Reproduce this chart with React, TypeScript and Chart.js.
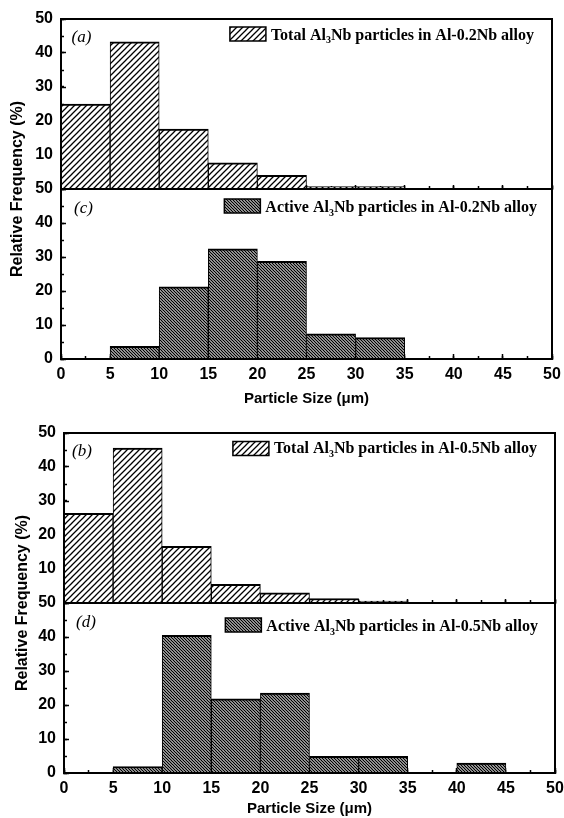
import React, { useEffect, useRef } from 'react';
import { Chart, registerables } from 'chart.js';

Chart.register(...registerables);

// ---------------- data ----------------
const sizeBins = ['0-5', '5-10', '10-15', '15-20', '20-25', '25-30', '30-35', '35-40', '40-45', '45-50'];
const totalNb02 = [25.0, 43.3, 17.6, 7.7, 4.0, 0.7, 0.7, 0, 0, 0];
const activeNb02 = [0, 3.7, 21.2, 32.4, 28.7, 7.4, 6.3, 0, 0, 0];
const totalNb05 = [26.4, 45.6, 16.7, 5.5, 3.0, 1.3, 0.6, 0, 0, 0];
const activeNb05 = [0, 1.9, 40.5, 21.8, 23.5, 4.9, 4.9, 0, 2.9, 0];

const sizeMin = 0;
const sizeMax = 50;
const sizeMajorStep = 5;
const sizeMinorStep = 2.5;
const freqMin = 0;
const freqMax = 50;
const freqMajorStep = 10;
const freqMinorStep = 5;

const xTitle = 'Particle Size (μm)';
const yTitle = 'Relative Frequency (%)';
const legendNb02 = ['Total Al₃Nb particles in Al-0.2Nb alloy', 'Active Al₃Nb particles in Al-0.2Nb alloy'];
const legendNb05 = ['Total Al₃Nb particles in Al-0.5Nb alloy', 'Active Al₃Nb particles in Al-0.5Nb alloy'];
const tagsNb02 = ['(a)', '(c)'];
const tagsNb05 = ['(b)', '(d)'];

// ---------------- styles ----------------
const SANS = '"Liberation Sans", Arial, sans-serif';
const SERIF = '"Liberation Serif", "Times New Roman", serif';
const BLACK = '#000';

type Lay = {
  top: number; height: number; padTop: number; padRight: number; titleW: number; tickW: number;
  xAxisH: number; yTitlePad: number; xTitlePad: number; xTickPad: number;
};
type PanelStyle = { tagX: number; tagY: number; boxY: number; textY: number; rightGap: number };

const lay1: Lay = { top: 0, height: 409, padTop: 19, padRight: 12, titleW: 28, tickW: 33, xAxisH: 50, yTitlePad: 8, xTitlePad: 1, xTickPad: 10.5 };
const lay2: Lay = { top: 409, height: 409, padTop: 24, padRight: 9, titleW: 31, tickW: 33, xAxisH: 45, yTitlePad: 13, xTitlePad: 0, xTickPad: 10.5 };
const panels1: PanelStyle[] = [
  { tagX: 10.5, tagY: 23, boxY: 8, textY: 20.5, rightGap: 18 },
  { tagX: 13, tagY: 24, boxY: 10, textY: 23, rightGap: 15 },
];
const panels2: PanelStyle[] = [
  { tagX: 8, tagY: 23, boxY: 8.5, textY: 20, rightGap: 18 },
  { tagX: 12, tagY: 24, boxY: 15, textY: 28, rightGap: 17 },
];

function makeHatch(tile: number, lw: number, slope: 'up' | 'down'): CanvasPattern {
  const c = document.createElement('canvas');
  c.width = tile;
  c.height = tile;
  const g = c.getContext('2d')!;
  g.fillStyle = '#fff';
  g.fillRect(0, 0, tile, tile);
  g.strokeStyle = BLACK;
  g.lineWidth = lw;
  g.beginPath();
  for (let k = -1; k <= 1; k++) {
    if (slope === 'up') {
      g.moveTo(k * tile - 1, tile + 1);
      g.lineTo(k * tile + tile + 1, -1);
    } else {
      g.moveTo(k * tile - 1, -1);
      g.lineTo(k * tile + tile + 1, tile + 1);
    }
  }
  g.stroke();
  return g.createPattern(c, 'repeat')!;
}

function decorPlugin(tags: string[], legends: string[], styles: PanelStyle[]) {
  const axes = ['ya', 'yc'];
  return {
    id: 'panelDecor',
    afterDraw(chart: any) {
      const { ctx, chartArea } = chart;
      axes.forEach((axisId, i) => {
        const sc = chart.scales[axisId];
        const st = styles[i];
        const top = sc.top;
        ctx.save();
        ctx.fillStyle = BLACK;
        ctx.textAlign = 'left';
        ctx.textBaseline = 'alphabetic';
        ctx.font = `italic 17px ${SERIF}`;
        ctx.fillText(tags[i], chartArea.left + st.tagX, top + st.tagY);

        const mainFont = `bold 16px ${SERIF}`;
        const subFont = `bold 10px ${SERIF}`;
        const parts = legends[i].split('₃');
        ctx.font = mainFont;
        const w0 = ctx.measureText(parts[0]).width;
        const w2 = parts.length > 1 ? ctx.measureText(parts[1]).width : 0;
        ctx.font = subFont;
        const w1 = parts.length > 1 ? ctx.measureText('3').width : 0;
        const textX = chartArea.right - st.rightGap - (w0 + w1 + w2);
        const base = top + st.textY;
        ctx.font = mainFont;
        ctx.fillText(parts[0], textX, base);
        if (parts.length > 1) {
          ctx.font = subFont;
          ctx.fillText('3', textX + w0, base + 3.5);
          ctx.font = mainFont;
          ctx.fillText(parts[1], textX + w0 + w1, base);
        }
        const bw = 36;
        const bh = 14;
        const bx = textX - 5 - bw;
        const by = top + st.boxY;
        ctx.fillStyle = chart.data.datasets[i].backgroundColor;
        ctx.fillRect(bx, by, bw, bh);
        ctx.strokeStyle = BLACK;
        ctx.lineWidth = 1.5;
        ctx.strokeRect(bx, by, bw, bh);
        ctx.restore();
      });
    },
  };
}

type FigProps = { total: number[]; active: number[]; tags: string[]; legends: string[]; lay: Lay; styles: PanelStyle[] };

function Figure({ total, active, tags, legends, lay, styles }: FigProps) {
  const ref = useRef<HTMLCanvasElement>(null);
  useEffect(() => {
    const canvas = ref.current!;
    const light = makeHatch(6, 1.3, 'up');
    const dark = makeHatch(3, 1.3, 'down');
    const tickFont = { family: SANS, size: 16, weight: 'bold' as const };
    const frameBorder = { display: true, color: BLACK, width: 2, z: 1 };
    const noLabels = { display: false };
    const barCommon = {
      xAxisID: 'x',
      borderColor: BLACK,
      borderWidth: { top: 2, left: 1, right: 1, bottom: 0 },
      borderSkipped: false as const,
      barPercentage: 1,
      categoryPercentage: 1,
      grouped: false,
    };
    const yMajor = (ya: boolean) => ({
      type: 'linear' as const,
      position: 'left' as const,
      stack: 'panels',
      stackWeight: 1,
      offset: false,
      min: freqMin,
      max: freqMax,
      ticks: {
        stepSize: freqMajorStep,
        font: tickFont,
        color: BLACK,
        padding: 13,
        autoSkip: false,
        callback: (v: any) => (ya && v === freqMin ? '' : String(v)),
      },
      grid: { offset: false, drawOnChartArea: false, tickLength: -5, tickWidth: 1.5, tickColor: BLACK },
      border: frameBorder,
      afterFit: (s: any) => {
        s.width = lay.tickW;
        s.paddingTop = 0;
        s.paddingBottom = 0;
      },
    });
    const xTicks = (pos: any, step: number, len: number, border: boolean) => ({
      type: 'linear' as const,
      axis: 'x' as const,
      position: pos,
      offset: false,
      min: sizeMin,
      max: sizeMax,
      ticks: { stepSize: step, display: false, autoSkip: false },
      grid: { offset: false, drawOnChartArea: false, tickLength: len, tickWidth: 1.5, tickColor: BLACK },
      border: border ? frameBorder : { display: false },
      afterFit: (s: any) => {
        s.paddingLeft = 0;
        s.paddingRight = 0;
      },
    });

    const chart = new Chart(canvas, {
      type: 'bar',
      data: {
        labels: sizeBins,
        datasets: [
          { ...barCommon, label: legends[0], data: total, yAxisID: 'ya', backgroundColor: light },
          { ...barCommon, label: legends[1], data: active, yAxisID: 'yc', backgroundColor: dark },
        ],
      },
      options: {
        responsive: false,
        maintainAspectRatio: false,
        animation: false,
        devicePixelRatio: 1,
        layout: { padding: { top: lay.padTop, right: lay.padRight, left: 0, bottom: 0 } },
        plugins: { legend: { display: false }, tooltip: { enabled: false } },
        scales: {
          x: { type: 'category', display: false, offset: true },
          xl: {
            type: 'linear',
            axis: 'x',
            position: 'bottom',
            offset: false,
            min: sizeMin,
            max: sizeMax,
            ticks: { stepSize: sizeMajorStep, font: tickFont, color: BLACK, padding: lay.xTickPad, maxRotation: 0, autoSkip: false },
            grid: { offset: false, drawOnChartArea: false, tickLength: -5, tickWidth: 1.5, tickColor: BLACK },
            border: frameBorder,
            title: {
              display: true,
              text: xTitle,
              color: BLACK,
              font: { family: SANS, size: 15, weight: 'bold' },
              padding: { top: 0, bottom: lay.xTitlePad },
            },
            afterFit: (s: any) => {
              s.height = lay.xAxisH;
              s.paddingLeft = 0;
              s.paddingRight = 0;
            },
          },
          xmc: xTicks({ yc: freqMin }, sizeMinorStep, -3, false),
          xMa: xTicks({ yc: freqMax }, sizeMajorStep, -5, true),
          xma: xTicks({ yc: freqMax }, sizeMinorStep, -3, false),
          xt: {
            type: 'linear',
            axis: 'x',
            position: 'top',
            offset: false,
            min: sizeMin,
            max: sizeMax,
            ticks: noLabels,
            grid: { display: false, drawTicks: false, offset: false },
            border: frameBorder,
          },
          yc: yMajor(false),
          ya: yMajor(true),
          ytitle: {
            type: 'linear',
            axis: 'y',
            position: 'left',
            weight: 10,
            min: 0,
            max: 1,
            ticks: noLabels,
            grid: { display: false, drawTicks: false },
            border: { display: false },
            title: {
              display: true,
              text: yTitle,
              color: BLACK,
              font: { family: SANS, size: 16, weight: 'bold' },
              padding: { top: lay.yTitlePad, bottom: 0 },
            },
            afterFit: (s: any) => { s.width = lay.titleW; },
          },
          ym: {
            type: 'linear',
            axis: 'y',
            position: { xl: sizeMin },
            min: freqMin,
            max: freqMax * 2,
            ticks: { stepSize: freqMinorStep, display: false, autoSkip: false },
            grid: { drawOnChartArea: false, tickLength: -3, tickWidth: 1.5, tickColor: BLACK },
            border: { display: false },
            afterFit: (s: any) => {
              s.paddingTop = 0;
              s.paddingBottom = 0;
            },
          },
          yr: {
            type: 'linear',
            axis: 'y',
            position: 'right',
            min: 0,
            max: 1,
            ticks: noLabels,
            grid: { display: false, drawTicks: false },
            border: frameBorder,
          },
        } as any,
      },
      plugins: [decorPlugin(tags, legends, styles)],
    });
    return () => chart.destroy();
  }, []);
  return (
    <canvas
      ref={ref}
      width={564}
      height={lay.height}
      style={{ position: 'absolute', left: 0, top: lay.top, width: 564, height: lay.height, display: 'block' }}
    />
  );
}

export default function App() {
  return (
    <div style={{ position: 'absolute', left: 0, top: 0, width: 564, height: 818, background: '#fff', overflow: 'hidden' }}>
      <Figure total={totalNb02} active={activeNb02} tags={tagsNb02} legends={legendNb02} lay={lay1} styles={panels1} />
      <Figure total={totalNb05} active={activeNb05} tags={tagsNb05} legends={legendNb05} lay={lay2} styles={panels2} />
    </div>
  );
}
